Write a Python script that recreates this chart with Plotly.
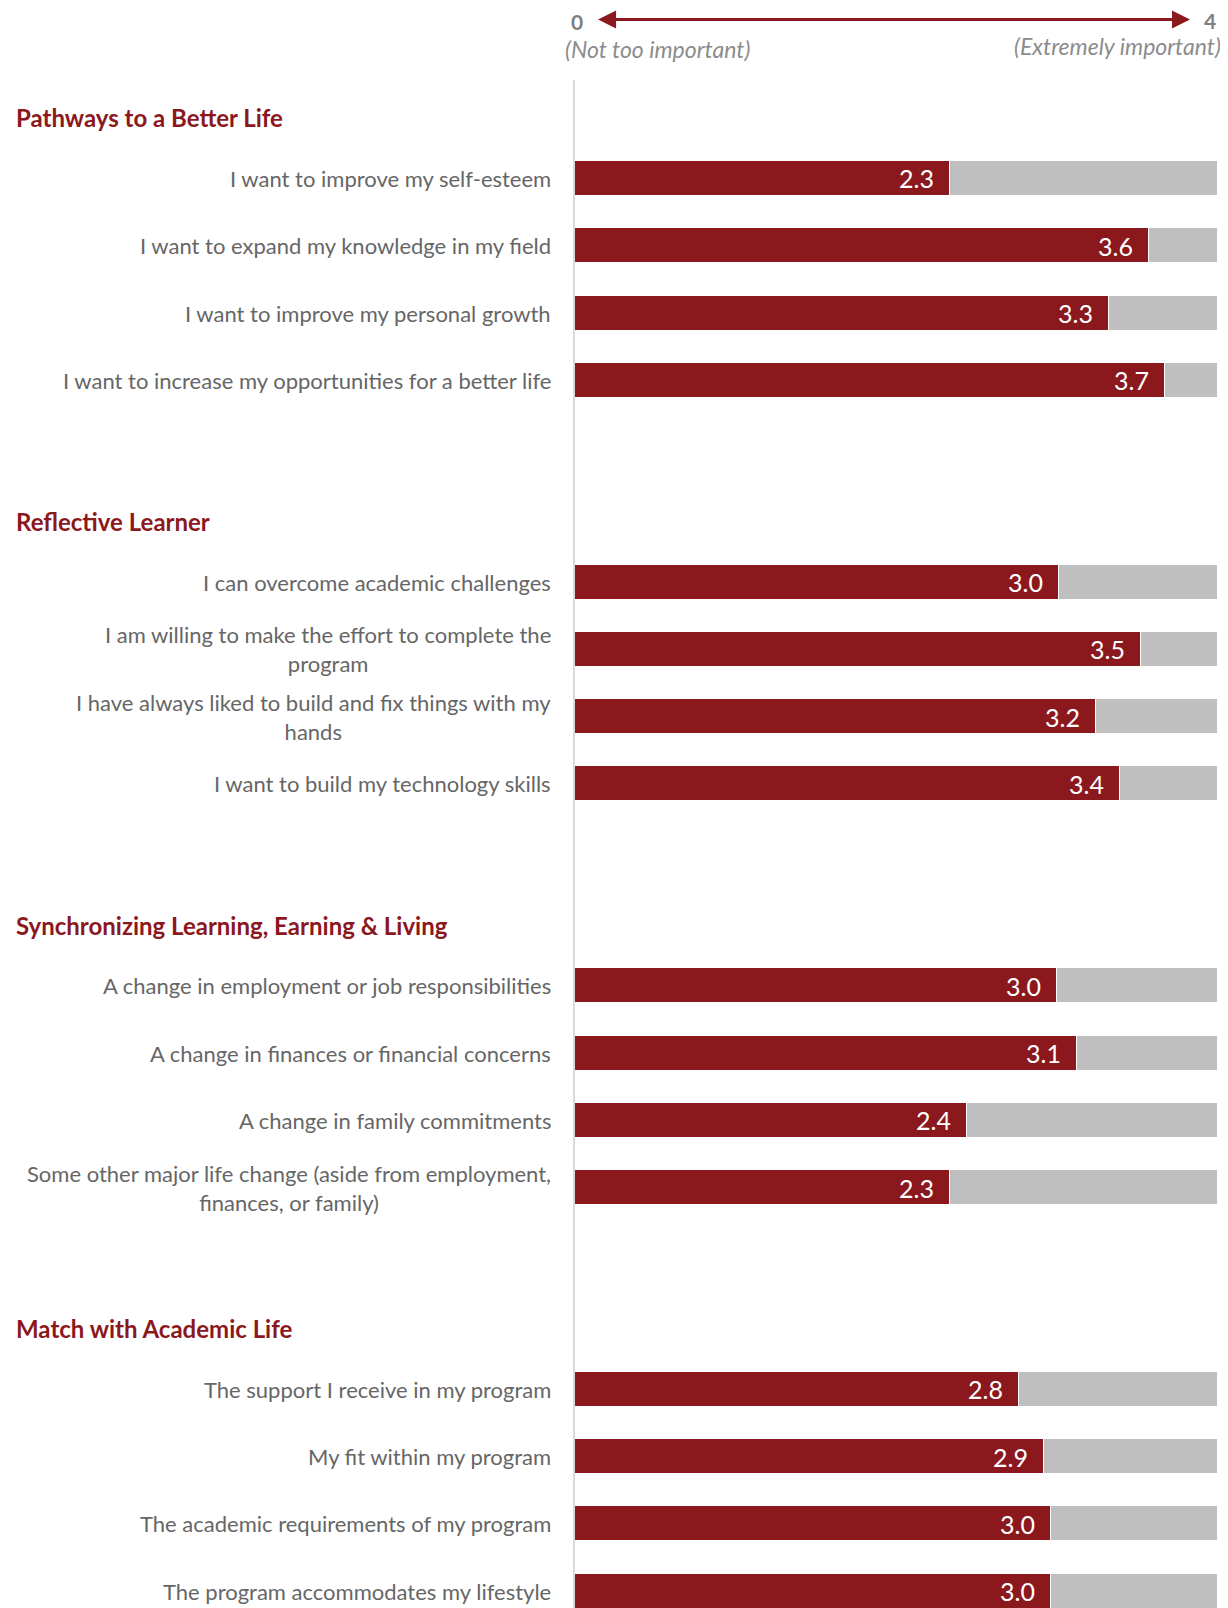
import plotly.graph_objects as go

# ---------------- data ----------------
group_titles = [
    "Pathways to a Better Life",
    "Reflective Learner",
    "Synchronizing Learning, Earning & Living",
    "Match with Academic Life",
]
group_items = [
    [
        "I want to improve my self-esteem",
        "I want to expand my knowledge in my field",
        "I want to improve my personal growth",
        "I want to increase my opportunities for a better life",
    ],
    [
        "I can overcome academic challenges",
        "I am willing to make the effort to complete the<br>program",
        "I have always liked to build and fix things with my<br>hands",
        "I want to build my technology skills",
    ],
    [
        "A change in employment or job responsibilities",
        "A change in finances or financial concerns",
        "A change in family commitments",
        "Some other major life change (aside from employment,<br>finances, or family)",
    ],
    [
        "The support I receive in my program",
        "My fit within my program",
        "The academic requirements of my program",
        "The program accommodates my lifestyle",
    ],
]
group_values = [
    [2.33, 3.57, 3.32, 3.67],
    [3.01, 3.52, 3.24, 3.39],
    [3.00, 3.12, 2.44, 2.33],
    [2.76, 2.92, 2.96, 2.96],
]
scale_max = 4
scale_left_label = "(Not too important)"
scale_right_label = "(Extremely important)"

RED = "#8B181D"
GRAY_BAR = "#BFBFBF"
TEXT_GRAY = "#666666"
FONT = "Lato, Open Sans, sans-serif"

# ------------- build positions -------------
SLOTS_PER_GROUP = 6
labels, values, pos = [], [], []
for g, (items, vals) in enumerate(zip(group_items, group_values)):
    for i, (lab, v) in enumerate(zip(items, vals)):
        labels.append(lab)
        values.append(v)
        pos.append(g * SLOTS_PER_GROUP + i)
remain = [scale_max - v for v in values]

fig = go.Figure()
fig.add_trace(go.Bar(
    y=pos, x=values, orientation="h", width=0.52,
    marker=dict(color=RED, line=dict(color="white", width=1.5)),
    hoverinfo="skip", showlegend=False,
))
fig.add_trace(go.Bar(
    y=pos, x=remain, orientation="h", width=0.52,
    marker=dict(color=GRAY_BAR, line=dict(color="white", width=1.5)),
    hoverinfo="skip", showlegend=False,
))

annotations = []
# value labels inside red bars
for p, v in zip(pos, values):
    annotations.append(dict(
        x=v, y=p, xref="x", yref="y", text=f"{v:.1f}", showarrow=False,
        xanchor="right", yanchor="middle", xshift=-14,
        font=dict(family=FONT, size=25, color="white"),
    ))
# category labels
for p, lab in zip(pos, labels):
    annotations.append(dict(
        x=0, y=p, xref="paper", yref="y", text=lab, showarrow=False,
        xanchor="right", yanchor="middle", xshift=-22, align="center",
        font=dict(family=FONT, size=22, color=TEXT_GRAY),
    ))
# group titles
for g, t in enumerate(group_titles):
    annotations.append(dict(
        x=0, y=g * SLOTS_PER_GROUP - 0.9, xref="paper", yref="y", text=f"<b>{t}</b>",
        showarrow=False, xanchor="left", yanchor="middle", xshift=-561,
        font=dict(family=FONT, size=24, color=RED),
    ))

# scale header
annotations.append(dict(
    x=3.826, y=1.0396, xref="x", yref="paper", ax=0.134, ay=0, axref="x", ayref="pixel",
    text="", showarrow=True, arrowside="end+start", arrowhead=2, arrowsize=1.2,
    arrowwidth=3, arrowcolor=RED,
))
annotations.append(dict(
    x=0.003, y=1.0383, xref="paper", yref="paper", text="<b>0</b>", showarrow=False,
    xanchor="center", yanchor="middle", font=dict(family=FONT, size=21, color="#7F7F7F"),
))
annotations.append(dict(
    x=0.9876, y=1.0390, xref="paper", yref="paper", text=f"<b>{scale_max}</b>", showarrow=False,
    xanchor="center", yanchor="middle", font=dict(family=FONT, size=21, color="#7F7F7F"),
))
annotations.append(dict(
    x=-0.019, y=1.0203, xref="paper", yref="paper", text=f"<i>{scale_left_label}</i>",
    showarrow=False, xanchor="left", yanchor="middle",
    font=dict(family=FONT, size=23, color="#8C8C8C"),
))
annotations.append(dict(
    x=1.008, y=1.0223, xref="paper", yref="paper", text=f"<i>{scale_right_label}</i>",
    showarrow=False, xanchor="right", yanchor="middle",
    font=dict(family=FONT, size=23, color="#8C8C8C"),
))

# page body has an 8px margin, so the figure is sized/offset to compensate
fig.update_layout(
    width=1220, height=1600,
    margin=dict(l=566.5, r=10, t=72, b=0),
    barmode="stack", bargap=0,
    paper_bgcolor="white", plot_bgcolor="white",
    annotations=annotations,
    xaxis=dict(range=[0, scale_max], showgrid=False, zeroline=False, showline=False,
               showticklabels=False, ticks=""),
    yaxis=dict(range=[21.25, -1.464], showgrid=False, zeroline=False, showline=True,
               linecolor="#D9D9D9", linewidth=2, showticklabels=False, ticks=""),
    font=dict(family=FONT),
)

fig.write_html("out.html")
